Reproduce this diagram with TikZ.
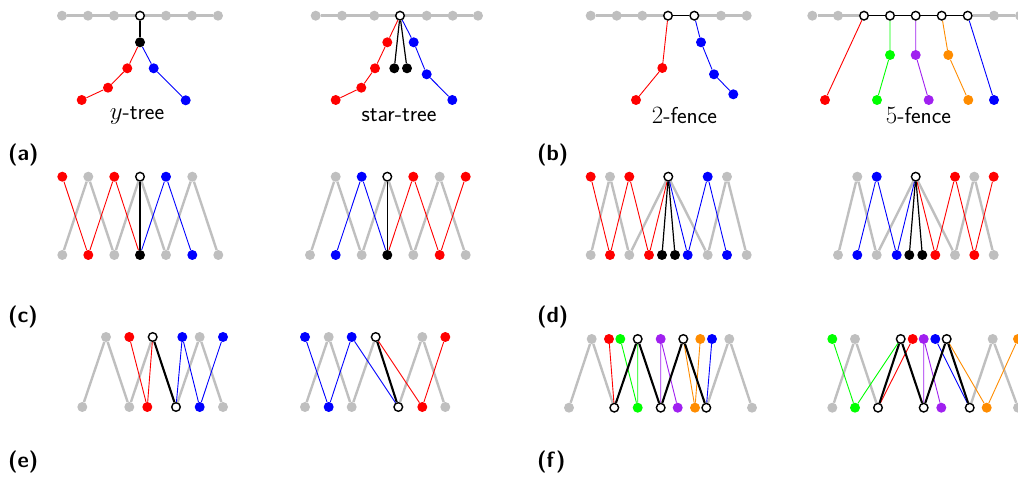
\documentclass[tikz,border=0pt]{standalone}
\pgfdeclarelayer{edges}
\pgfsetlayers{edges,main}
\begin{document}
\begin{tikzpicture}[
    x=1pt,y=-1pt,
    font=\sffamily\fontsize{23}{27}\selectfont,
    vtx/.style={circle,inner sep=0pt,minimum size=10pt},
    vgray/.style={vtx,fill=lgray},
    vred/.style={vtx,fill=red},
    vblue/.style={vtx,fill=blue},
    vblack/.style={vtx,fill=black},
    vgreen/.style={vtx,fill=lgreen},
    vpurple/.style={vtx,fill=lpurple},
    vorange/.style={vtx,fill=lorange},
    vopen/.style={vtx,draw=black,fill=white,line width=1.4pt,minimum size=8.6pt},
    gline/.style={draw=lgray,line width=2.4pt},
    cline/.style={draw=#1,line width=.9pt},
    kline/.style={draw=black,line width=1.2pt},
    kbold/.style={draw=black,line width=2.1pt},
    caption/.style={anchor=base,inner sep=0pt},
    panel/.style={anchor=base west,inner sep=0pt,font=\sffamily\bfseries\fontsize{22}{26}\selectfont}
  ]
    \definecolor{lgray}{HTML}{BFBFBF}
    \definecolor{lgreen}{HTML}{00FF00}
    \definecolor{lpurple}{HTML}{A020F0}
    \definecolor{lorange}{HTML}{FF8C00}
    \path[use as bounding box] (0,0) rectangle (1018,481);

    % (a) y-tree and star-tree
    \foreach \x/\s [count=\i] in {62/vgray,88/vgray,114/vgray,140/vopen,166/vgray,192/vgray,218/vgray}
      \node[\s] (yt\i) at (\x,15.7) {};
    \node[vblack] (yk) at (140,42.3) {};
    \node[vred] (yr1) at (127.3,68.3) {};
    \node[vred] (yr2) at (108,87.7) {};
    \node[vred] (yr3) at (81.7,100) {};
    \node[vblue] (yb1) at (153.7,68.3) {};
    \node[vblue] (yb2) at (185.7,100.3) {};
    \node[caption] (ycap) at (137,120) {$y$-tree};

    \foreach \x/\s [count=\i] in {315.7/vgray,342/vgray,374.3/vgray,400/vopen,426.7/vgray,452.7/vgray,478/vgray}
      \node[\s] (st\i) at (\x,15.7) {};
    \node[vred] (sr1) at (387.3,42.3) {};
    \node[vred] (sr2) at (375,68.3) {};
    \node[vred] (sr3) at (361.3,87.7) {};
    \node[vred] (sr4) at (335.7,100) {};
    \node[vblack] (sk1) at (394.3,68.3) {};
    \node[vblack] (sk2) at (407,68.3) {};
    \node[vblue] (sb1) at (413.7,42.3) {};
    \node[vblue] (sb2) at (426.7,74.3) {};
    \node[vblue] (sb3) at (452.3,100) {};
    \node[caption] (scap) at (399,121.5) {star-tree};

    % (b) 2-fence and 5-fence
    \foreach \x/\s [count=\i] in {590.7/vgray,616.7/vgray,642.3/vgray,668/vopen,694.3/vopen,721/vgray,746.7/vgray}
      \node[\s] (tf\i) at (\x,15.7) {};
    \node[vred] (tr1) at (662.3,68) {};
    \node[vred] (tr2) at (636,100) {};
    \node[vblue] (tb1) at (701,42.3) {};
    \node[vblue] (tb2) at (714,74.3) {};
    \node[vblue] (tb3) at (733.3,94.3) {};
    \node[caption] (tcap) at (684.5,124) {$2$-fence};

    \foreach \x/\s [count=\i] in {812.3/vgray,838/vgray,864/vopen,890/vopen,915.7/vopen,941.7/vopen,967.7/vopen,994/vgray,1020/vgray}
      \node[\s] (ff\i) at (\x,15.7) {};
    \node[vred] (fr) at (825,100) {};
    \node[vgreen] (fg1) at (890,55) {};
    \node[vgreen] (fg2) at (877,100) {};
    \node[vpurple] (fp1) at (915.7,55) {};
    \node[vpurple] (fp2) at (928.7,100) {};
    \node[vorange] (fo1) at (948.3,55) {};
    \node[vorange] (fo2) at (968.3,100) {};
    \node[vblue] (fb) at (994,100) {};
    \node[caption] (fcap) at (918.5,124) {$5$-fence};

    % (c)
    \foreach \x/\s [count=\i] in {62.3/vred,88.3/vgray,114.3/vred,140/vopen,166/vblue,192.3/vgray}
      \node[\s] (cLt\i) at (\x,176.7) {};
    \foreach \x/\s [count=\i] in {62.3/vgray,88.3/vred,114.3/vgray,140/vblack,166/vgray,192.3/vblue,218.3/vgray}
      \node[\s] (cLb\i) at (\x,255) {};
    \foreach \x/\s [count=\i] in {335.7/vgray,361.7/vblue,387.3/vopen,413.3/vred,439.7/vgray,465.7/vred}
      \node[\s] (cRt\i) at (\x,176.7) {};
    \foreach \x/\s [count=\i] in {310/vgray,335.7/vblue,361.7/vgray,387.3/vblack,413.3/vgray,439.7/vred,465.7/vgray}
      \node[\s] (cRb\i) at (\x,255) {};

    % (d)
    \foreach \x/\s [count=\i] in {590.7/vred,610/vgray,629.3/vred,668.3/vopen,707.7/vblue,727/vgray}
      \node[\s] (dLt\i) at (\x,176.7) {};
    \foreach \x/\s [count=\i] in {590.7/vgray,610/vred,629.3/vgray,649/vred,662/vblack,675/vblack,687.7/vblue,707.7/vgray,727/vblue,746.7/vgray}
      \node[\s] (dLb\i) at (\x,255) {};
    \foreach \x/\s [count=\i] in {857.3/vgray,876.7/vblue,915.7/vopen,955/vred,974.3/vgray,993.7/vred}
      \node[\s] (dRt\i) at (\x,176.7) {};
    \foreach \x/\s [count=\i] in {838/vgray,857.3/vblue,876.7/vgray,896.7/vblue,909.3/vblack,922.3/vblack,935.3/vred,955/vgray,974.3/vred,993.7/vgray}
      \node[\s] (dRb\i) at (\x,255) {};

    % (e)
    \foreach \x/\s [count=\i] in {106/vgray,129.3/vred,152.7/vopen,182.3/vblue,199.7/vgray,223/vblue}
      \node[\s] (eLt\i) at (\x,337) {};
    \foreach \x/\s [count=\i] in {82.3/vgray,129.3/vgray,147.3/vred,176/vopen,199.7/vblue,223/vgray}
      \node[\s] (eLb\i) at (\x,407) {};
    \foreach \x/\s [count=\i] in {305/vblue,328.7/vgray,351.7/vblue,375.7/vopen,422.3/vgray,445.3/vred}
      \node[\s] (eRt\i) at (\x,337) {};
    \foreach \x/\s [count=\i] in {305/vgray,328.7/vblue,351.7/vgray,398.3/vopen,422.3/vred,445.3/vgray}
      \node[\s] (eRb\i) at (\x,407) {};

    % (f)
    \foreach \x/\s [count=\i] in {591.7/vgray,609/vred,620.3/vgreen,637.7/vopen,660.7/vpurple,683.3/vopen,700.3/vorange,712/vblue,729.3/vgray}
      \node[\s] (fLt\i) at (\x,339) {};
    \foreach \x/\s [count=\i] in {569/vgray,614.3/vopen,637.7/vgreen,660.7/vopen,677.7/vpurple,695/vorange,706.3/vopen,752/vgray}
      \node[\s] (fLb\i) at (\x,407.7) {};
    \foreach \x/\s [count=\i] in {832.3/vgreen,855/vgray,900.7/vopen,912.7/vred,923.7/vpurple,935.3/vblue,946.7/vopen,992.7/vgray,1018/vorange}
      \node[\s] (fRt\i) at (\x,339) {};
    \foreach \x/\s [count=\i] in {832.3/vgray,855/vgreen,878/vopen,923.7/vopen,941.3/vpurple,969.7/vopen,986.7/vorange,1018/vgray}
      \node[\s] (fRb\i) at (\x,407.7) {};

    \node[panel] (la) at (8,160.5) {(a)};
    \node[panel] (lb) at (537,160.5) {(b)};
    \node[panel] (lc) at (8,322.5) {(c)};
    \node[panel] (ld) at (537,322.5) {(d)};
    \node[panel] (le) at (8,467.5) {(e)};
    \node[panel] (lf) at (537,467.5) {(f)};

    \begin{pgfonlayer}{edges}
      \draw[gline] (yt1)--(yt7);
      \draw[kline] (yt4)--(yk);
      \draw[cline=red] (yk)--(yr1)--(yr2)--(yr3);
      \draw[cline=blue] (yk)--(yb1)--(yb2);

      \draw[gline] (st1)--(st7);
      \draw[cline=red] (st4)--(sr1)--(sr2)--(sr3)--(sr4);
      \draw[kline] (st4)--(sk1) (st4)--(sk2);
      \draw[cline=blue] (st4)--(sb1)--(sb2)--(sb3);

      \draw[gline] (tf1)--(tf4) (tf5)--(tf7);
      \draw[kline] (tf4)--(tf5);
      \draw[cline=red] (tf4)--(tr1)--(tr2);
      \draw[cline=blue] (tf5)--(tb1)--(tb2)--(tb3);

      \draw[gline] (ff1)--(ff3) (ff7)--(ff9);
      \draw[kline] (ff3)--(ff7);
      \draw[cline=red] (ff3)--(fr);
      \draw[cline=lgreen] (ff4)--(fg1)--(fg2);
      \draw[cline=lpurple] (ff5)--(fp1)--(fp2);
      \draw[cline=lorange] (ff6)--(fo1)--(fo2);
      \draw[cline=blue] (ff7)--(fb);

      \draw[gline] (cLb1)--(cLt2)--(cLb3)--(cLt4)--(cLb5)--(cLt6)--(cLb7);
      \draw[cline=red] (cLt1)--(cLb2)--(cLt3)--(cLb4);
      \draw[cline=blue] (cLb4)--(cLt5)--(cLb6);
      \draw[kline] (cLt4)--(cLb4);
      \draw[gline] (cRb1)--(cRt1)--(cRb3)--(cRt3)--(cRb5)--(cRt5)--(cRb7);
      \draw[cline=blue] (cRb2)--(cRt2)--(cRb4);
      \draw[cline=red] (cRb4)--(cRt4)--(cRb6)--(cRt6);
      \draw[kline] (cRt3)--(cRb4);

      \draw[gline] (dLb1)--(dLt2)--(dLb3)--(dLt4)--(dLb8)--(dLt6)--(dLb10);
      \draw[cline=red] (dLt1)--(dLb2)--(dLt3)--(dLb4)--(dLt4);
      \draw[cline=blue] (dLt4)--(dLb7)--(dLt5)--(dLb9);
      \draw[kline] (dLt4)--(dLb5) (dLt4)--(dLb6);
      \draw[gline] (dRb1)--(dRt1)--(dRb3)--(dRt3)--(dRb8)--(dRt5)--(dRb10);
      \draw[cline=blue] (dRb2)--(dRt2)--(dRb4)--(dRt3);
      \draw[cline=red] (dRt3)--(dRb7)--(dRt4)--(dRb9)--(dRt6);
      \draw[kline] (dRt3)--(dRb5) (dRt3)--(dRb6);

      \draw[gline] (eLb1)--(eLt1)--(eLb2)--(eLt3) (eLb4)--(eLt5)--(eLb6);
      \draw[cline=red] (eLt2)--(eLb3)--(eLt3);
      \draw[cline=blue] (eLb4)--(eLt4)--(eLb5)--(eLt6);
      \draw[kbold] (eLt3)--(eLb4);
      \draw[gline] (eRb1)--(eRt2)--(eRb3)--(eRt4) (eRb4)--(eRt5)--(eRb6);
      \draw[cline=blue] (eRt1)--(eRb2)--(eRt3)--(eRb4);
      \draw[cline=red] (eRt4)--(eRb5)--(eRt6);
      \draw[kbold] (eRt4)--(eRb4);

      \draw[gline] (fLb1)--(fLt1)--(fLb2) (fLb7)--(fLt9)--(fLb8);
      \draw[cline=red] (fLt2)--(fLb2);
      \draw[cline=lgreen] (fLt3)--(fLb3)--(fLt4);
      \draw[cline=lpurple] (fLb4)--(fLt5)--(fLb5);
      \draw[cline=lorange] (fLt6)--(fLb6)--(fLt7);
      \draw[cline=blue] (fLt8)--(fLb7);
      \draw[kbold] (fLb2)--(fLt4)--(fLb4)--(fLt6)--(fLb7);
      \draw[gline] (fRb1)--(fRt2)--(fRb3) (fRb6)--(fRt8)--(fRb8);
      \draw[cline=lgreen] (fRt1)--(fRb2)--(fRt3);
      \draw[cline=red] (fRb3)--(fRt4);
      \draw[cline=lpurple] (fRb4)--(fRt5)--(fRb5);
      \draw[cline=blue] (fRt6)--(fRb6);
      \draw[cline=lorange] (fRt7)--(fRb7)--(fRt9);
      \draw[kbold] (fRb3)--(fRt3)--(fRb4)--(fRt7)--(fRb6);
    \end{pgfonlayer}
  \end{tikzpicture}
\end{document}
